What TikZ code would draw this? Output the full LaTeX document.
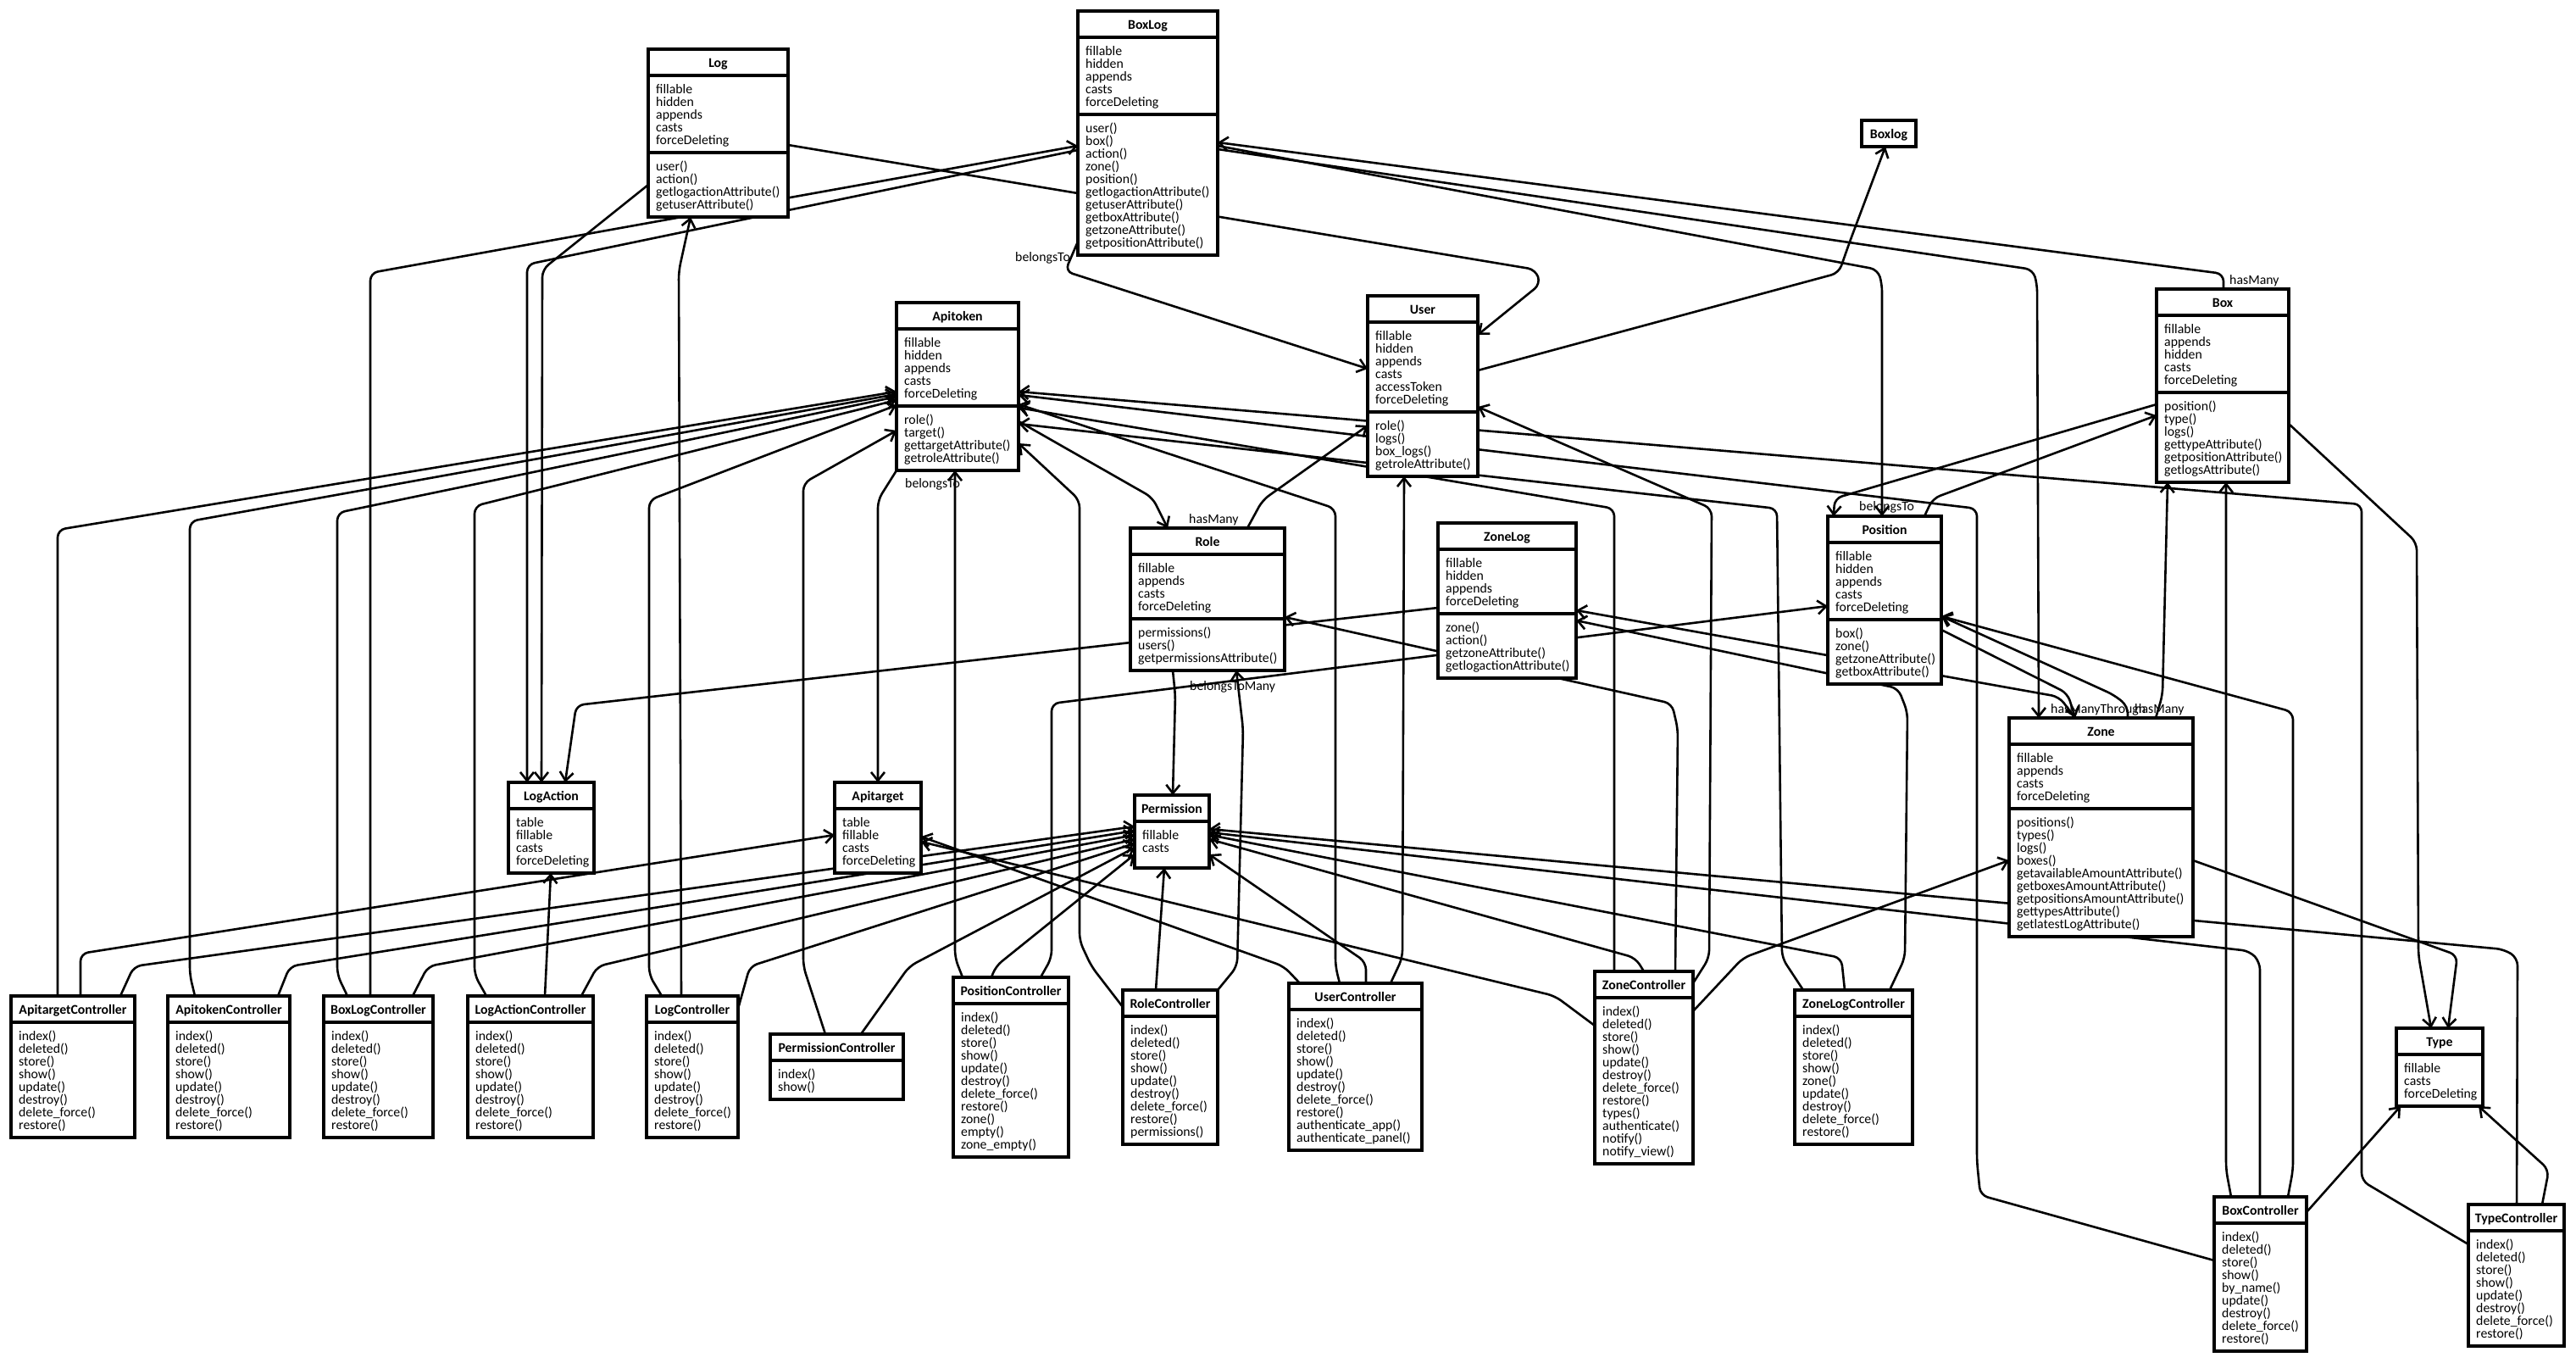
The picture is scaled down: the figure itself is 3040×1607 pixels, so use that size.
\documentclass[tikz,border=0pt]{standalone}
\usepackage{fontspec}
\setmainfont{Carlito}
\usetikzlibrary{arrows.meta,calc}
\pgfdeclarelayer{paper}
\pgfdeclarelayer{wires}
\pgfsetlayers{paper,wires,main}
\newcommand\umlfont{\fontsize{15.8}{15}\selectfont}
\tikzset{
  classbox/.style={draw, line width=3.5pt, fill=white, inner sep=0pt, outer sep=0pt},
  partline/.style={line width=3.5pt},
  titletext/.style={anchor=base, font=\umlfont\bfseries, inner sep=0pt},
  membertext/.style={anchor=base west, font=\umlfont, inner sep=0pt},
  assoc/.style={line width=2.6pt, rounded corners=9pt, line join=round,
    -{Straight Barb[length=10pt,width=16pt]}},
  rolelabel/.style={anchor=base west, font=\umlfont, inner sep=0pt},
}
% #1 name, #2 left, #3 right, #4 top, #5 title,
% #6 height (in lines) of first part, #7 its lines,
% #8 height (in lines) of second part, #9 its lines
\newcommand\umlclass[9]{%
  \pgfmathsetmacro\ya{#4+31}%
  \pgfmathsetmacro\yb{\ya+(#6>0)*(15*#6+16)}%
  \pgfmathsetmacro\yc{\yb+(#8>0)*(15*#8+16)}%
  \node[classbox, minimum width={(#3-#2)*1pt}, minimum height={(\yc-#4)*1pt}]
    (#1) at ({(#2+#3)/2},{(#4+\yc)/2}) {};
  \node[titletext] at ({(#2+#3)/2},{#4+21}) {#5};
  \ifdim#6pt>0pt
    \draw[partline] (#2,\ya) -- (#3,\ya);
    \foreach \mline [count=\k] in {#7}
      \node[membertext] at ({#2+9},{\ya+6+15*\k}) {\mline};
  \fi
  \ifdim#8pt>0pt
    \draw[partline] (#2,\yb) -- (#3,\yb);
    \foreach \mline [count=\k] in {#9}
      \node[membertext] at ({#2+9},{\yb+6+15*\k}) {\mline};
  \fi
}
\begin{document}
\begin{tikzpicture}[x=1pt,y=-1pt]
\begin{pgfonlayer}{paper}
\fill[white] (0,0) rectangle (3040,1607);
\end{pgfonlayer}
\useasboundingbox (0,0) rectangle (3040,1607);

% ---------- models ----------
\umlclass{Log}{765}{930}{58}{Log}{5}{fillable,hidden,appends,casts,forceDeleting}{4}{user(),action(),getlogactionAttribute(),getuserAttribute()}
\umlclass{BoxLog}{1272}{1437}{13}{BoxLog}{5}{fillable,hidden,appends,casts,forceDeleting}{10}{user(),box(),action(),zone(),position(),getlogactionAttribute(),getuserAttribute(),getboxAttribute(),getzoneAttribute(),getpositionAttribute()}
\umlclass{Boxlog}{2197}{2261}{142}{Boxlog}{0}{}{0}{}
\umlclass{Box}{2545}{2701}{341}{Box}{5}{fillable,appends,hidden,casts,forceDeleting}{6}{position(),type(),logs(),gettypeAttribute(),getpositionAttribute(),getlogsAttribute()}
\umlclass{User}{1614}{1744}{349}{User}{6}{fillable,hidden,appends,casts,accessToken,forceDeleting}{4}{role(),logs(),box\_logs(),getroleAttribute()}
\umlclass{Apitoken}{1058}{1202}{357}{Apitoken}{5}{fillable,hidden,appends,casts,forceDeleting}{4}{role(),target(),gettargetAttribute(),getroleAttribute()}
\umlclass{Role}{1334}{1516}{623}{Role}{4}{fillable,appends,casts,forceDeleting}{3}{permissions(),users(),getpermissionsAttribute()}
\umlclass{ZoneLog}{1697}{1860}{617}{ZoneLog}{4}{fillable,hidden,appends,forceDeleting}{4}{zone(),action(),getzoneAttribute(),getlogactionAttribute()}
\umlclass{Position}{2157}{2291}{609}{Position}{5}{fillable,hidden,appends,casts,forceDeleting}{4}{box(),zone(),getzoneAttribute(),getboxAttribute()}
\umlclass{Zone}{2371}{2588}{847}{Zone}{4}{fillable,appends,casts,forceDeleting}{9}{positions(),types(),logs(),boxes(),getavailableAmountAttribute(),getboxesAmountAttribute(),getpositionsAmountAttribute(),gettypesAttribute(),getlatestLogAttribute()}
\umlclass{Type}{2828}{2930}{1213}{Type}{3}{fillable,casts,forceDeleting}{0}{}
\umlclass{LogAction}{600}{701}{923}{LogAction}{4}{table,fillable,casts,forceDeleting}{0}{}
\umlclass{Apitarget}{985}{1087}{923}{Apitarget}{4}{table,fillable,casts,forceDeleting}{0}{}
\umlclass{Permission}{1339}{1427}{938}{Permission}{2.6}{fillable,casts}{0}{}

% ---------- controllers ----------
\umlclass{ApitargetCtl}{13}{159}{1175}{ApitargetController}{8}{index(),deleted(),store(),show(),update(),destroy(),delete\_force(),restore()}{0}{}
\umlclass{ApitokenCtl}{198}{342}{1175}{ApitokenController}{8}{index(),deleted(),store(),show(),update(),destroy(),delete\_force(),restore()}{0}{}
\umlclass{BoxLogCtl}{382}{511}{1175}{BoxLogController}{8}{index(),deleted(),store(),show(),update(),destroy(),delete\_force(),restore()}{0}{}
\umlclass{LogActionCtl}{552}{700}{1175}{LogActionController}{8}{index(),deleted(),store(),show(),update(),destroy(),delete\_force(),restore()}{0}{}
\umlclass{LogCtl}{763}{871}{1175}{LogController}{8}{index(),deleted(),store(),show(),update(),destroy(),delete\_force(),restore()}{0}{}
\umlclass{PermissionCtl}{909}{1066}{1220}{PermissionController}{2}{index(),show()}{0}{}
\umlclass{PositionCtl}{1125}{1261}{1153}{PositionController}{11}{index(),deleted(),store(),show(),update(),destroy(),delete\_force(),restore(),zone(),empty(),zone\_empty()}{0}{}
\umlclass{RoleCtl}{1325}{1437}{1168}{RoleController}{9}{index(),deleted(),store(),show(),update(),destroy(),delete\_force(),restore(),permissions()}{0}{}
\umlclass{UserCtl}{1521}{1678}{1160}{UserController}{10}{index(),deleted(),store(),show(),update(),destroy(),delete\_force(),restore(),authenticate\_app(),authenticate\_panel()}{0}{}
\umlclass{ZoneCtl}{1882}{1998}{1146}{ZoneController}{12}{index(),deleted(),store(),show(),update(),destroy(),delete\_force(),restore(),types(),authenticate(),notify(),notify\_view()}{0}{}
\umlclass{ZoneLogCtl}{2118}{2257}{1168}{ZoneLogController}{9}{index(),deleted(),store(),show(),zone(),update(),destroy(),delete\_force(),restore()}{0}{}
\umlclass{BoxCtl}{2613}{2722}{1412}{BoxController}{9}{index(),deleted(),store(),show(),by\_name(),update(),destroy(),delete\_force(),restore()}{0}{}
\umlclass{TypeCtl}{2913}{3026}{1421}{TypeController}{8}{index(),deleted(),store(),show(),update(),destroy(),delete\_force(),restore()}{0}{}

% ---------- connectors (drawn beneath the boxes) ----------
\begin{pgfonlayer}{wires}
% controllers on the left -> Apitoken
\draw[assoc] (ApitargetCtl.north -| 68,0) -- (68,625) -- (Apitoken.west |- 0,462);
\draw[assoc] (ApitokenCtl.north -| 230,0) -- (224,1150) -- (224,615) -- (Apitoken.west |- 0,465);
\draw[assoc] (BoxLogCtl.north -| 410,0) -- (398,1150) -- (398,605) -- (Apitoken.west |- 0,468);
\draw[assoc] (LogActionCtl.north -| 574,0) -- (560,1150) -- (560,597) -- (Apitoken.west |- 0,472);
\draw[assoc] (LogCtl.north -| 781,0) -- (766,1150) -- (766,590) -- (Apitoken.west |- 0,478);
\draw[assoc] (PermissionCtl.north -| 974,0) -- (948,1140) -- (948,570) -- (Apitoken.west |- 0,508);
% controllers on the left -> Permission
\draw[assoc] (ApitargetCtl.north -| 142,0) -- (158,1140) -- (Permission.west |- 0,975);
\draw[assoc] (ApitokenCtl.north -| 328,0) -- (342,1140) -- (Permission.west |- 0,980);
\draw[assoc] (BoxLogCtl.north -| 487,0) -- (505,1140) -- (Permission.west |- 0,985);
\draw[assoc] (LogActionCtl.north -| 686,0) -- (705,1140) -- (Permission.west |- 0,990);
\draw[assoc] (LogCtl.east |- 0,1190) -- (885,1140) -- (Permission.west |- 0,995);
\draw[assoc] (PermissionCtl.north -| 1016,0) -- (1073,1140) -- (Permission.west |- 0,1000);
\draw[assoc] (PositionCtl.north -| 1170,0) -- (1175,1140) -- (Permission.west |- 0,1008);
% controllers -> their models
\draw[assoc] (ApitargetCtl.north -| 95,0) -- (95,1125) -- (Apitarget.west |- 0,985);
\draw[assoc] (BoxLogCtl.north -| 437,0) -- (437,322) -- (BoxLog.west |- 0,172);
\draw[assoc] (LogActionCtl.north -| 643,0) -- (LogAction.south -| 650,0);
\draw[assoc] (LogCtl.north -| 804,0) -- (801,320) -- (Log.south -| 815,0);
\draw[assoc] (PositionCtl.north -| 1228,0) -- (1241,1130) -- (1241,830) -- (Position.west |- 0,715);
\draw[assoc] (PositionCtl.north -| 1136,0) -- (1127,1130) -- (Apitoken.south -| 1127,0);
\draw[assoc] (RoleCtl.west |- 0,1188) -- (1288,1140) -- (1274,1110) -- (1274,590) -- (Apitoken.east |- 0,523);
\draw[assoc] (RoleCtl.north -| 1364,0) -- (Permission.south -| 1374,0);
\draw[assoc] (RoleCtl.north east) -- (1460,1140) -- (1467,860) -- (Role.south -| 1459,0);
\draw[assoc] (UserCtl.north -| 1534,0) -- (1515,1140) -- (Apitarget.east |- 0,987);
\draw[assoc] (UserCtl.north -| 1581,0) -- (1576,1140) -- (1576,600) -- (Apitoken.east |- 0,477);
\draw[assoc] (UserCtl.north -| 1612,0) -- (1612,1135) -- (Permission.east |- 0,1008);
\draw[assoc] (UserCtl.north -| 1641,0) -- (1655,1130) -- (User.south -| 1657,0);
\draw[assoc] (ZoneCtl.north -| 1905,0) -- (1905,600) -- (Apitoken.east |- 0,481);
\draw[assoc] (ZoneCtl.north -| 1940,0) -- (1930,1130) -- (Permission.east |- 0,990);
\draw[assoc] (ZoneCtl.north -| 1977,0) -- (1980,860) -- (1973,830) -- (Role.east |- 0,728);
\draw[assoc] (ZoneCtl.east |- 0,1160) -- (2017,1130) -- (2020,600) -- (User.east |- 0,480);
\draw[assoc] (ZoneCtl.east |- 0,1193) -- (2057,1130) -- (Zone.west |- 0,1015);
\draw[assoc] (ZoneCtl.west |- 0,1210) -- (1835,1175) -- (Apitarget.east |- 0,993);
\draw[assoc] (ZoneLogCtl.north -| 2128,0) -- (2103,1130) -- (2097,600) -- (Apitoken.east |- 0,500);
\draw[assoc] (ZoneLogCtl.north -| 2177,0) -- (2173,1130) -- (Permission.east |- 0,985);
\draw[assoc] (ZoneLogCtl.north -| 2230,0) -- (2248,1130) -- (2251,840) -- (2240,812) -- (ZoneLog.east |- 0,732);
\draw[assoc] (BoxCtl.west |- 0,1487) -- (2337,1410) -- (2333,1370) -- (2333,600) -- (Apitoken.east |- 0,466);
\draw[assoc] (BoxCtl.north -| 2633,0) -- (2627,1380) -- (Box.south -| 2627,0);
\draw[assoc] (BoxCtl.north -| 2667,0) -- (2667,1135) -- (2655,1122) -- (Permission.east |- 0,982);
\draw[assoc] (BoxCtl.north -| 2700,0) -- (2706,1380) -- (2706,840) -- (Position.east |- 0,727);
\draw[assoc] (BoxCtl.east |- 0,1430) -- (2762,1385) -- (Type.south -| 2833,0);
\draw[assoc] (TypeCtl.west |- 0,1468) -- (2787,1393) -- (2787,595) -- (Apitoken.east |- 0,462);
\draw[assoc] (TypeCtl.north -| 2970,0) -- (2971,1130) -- (2955,1120) -- (Permission.east |- 0,978);
\draw[assoc] (TypeCtl.north -| 3000,0) -- (3008,1380) -- (Type.south -| 2925,0);
% relations between models
\draw[assoc] (Log.east |- 0,171) -- (1812,318) -- (1818,335) -- (User.east |- 0,395);
\draw[assoc] (Log.west |- 0,218) -- (640,318) -- (LogAction.north -| 639,0);
\draw[assoc] (BoxLog.west |- 0,177) -- (622,312) -- (LogAction.north -| 622,0);
\draw[assoc] (BoxLog.west |- 0,285) -- (1257,320) -- (User.west |- 0,435);
\draw[assoc] (Box.north -| 2624,0) -- (2624,323) -- (BoxLog.east |- 0,168);
\draw[assoc] (BoxLog.east |- 0,172) -- (2216,318) -- (2221,335) -- (Position.north -| 2221,0);
\draw[assoc] (BoxLog.east |- 0,176) -- (2399,318) -- (2404,335) -- (Zone.north -| 2406,0);
\draw[assoc] (User.east |- 0,437) -- (2170,322) -- (2183,285) -- (Boxlog.south -| 2225,0);
\draw[assoc] (Apitoken.east |- 0,497) -- (1360,587) -- (Role.north -| 1378,0);
\draw[assoc] (Role.north -| 1472,0) -- (1490,590) -- (User.west |- 0,502);
\draw[assoc] (Apitoken.south west) -- (1036,590) -- (Apitarget.north -| 1036,0);
\draw[assoc] (Role.south -| 1384,0) -- (1387,820) -- (Permission.north -| 1384,0);
\draw[assoc] (ZoneLog.west |- 0,717) -- (680,832) -- (LogAction.north -| 667,0);
\draw[assoc] (Zone.north -| 2449,0) -- (2430,822) -- (ZoneLog.east |- 0,720);
\draw[assoc] (Position.east |- 0,743) -- (2440,818) -- (Zone.north -| 2449,0);
\draw[assoc] (Zone.north -| 2511,0) -- (2511,833) -- (2495,820) -- (Position.east |- 0,727);
\draw[assoc] (Position.north -| 2271,0) -- (2281,588) -- (Box.west |- 0,490);
\draw[assoc] (Box.west |- 0,477) -- (2165,588) -- (Position.north -| 2164,0);
\draw[assoc] (Zone.north -| 2544,0) -- (2552,820) -- (Box.south -| 2558,0);
\draw[assoc] (Box.east |- 0,500) -- (2852,640) -- (2854,1127) -- (Type.north -| 2869,0);
\draw[assoc] (Zone.east |- 0,1015) -- (2900,1127) -- (Type.north -| 2889,0);
\end{pgfonlayer}

% ---------- relation names ----------
\node[rolelabel] at (1198,308) {belongsTo};
\node[rolelabel] at (2631,335) {hasMany};
\node[rolelabel] at (1068,575) {belongsTo};
\node[rolelabel] at (1403,617) {hasMany};
\node[rolelabel] at (1404,814) {belongsToMany};
\node[rolelabel] at (2194,602) {belongsTo};
\node[rolelabel] at (2420,841) {hasManyThrough};
\node[rolelabel] at (2519,841) {hasMany};
\end{tikzpicture}
\end{document}
